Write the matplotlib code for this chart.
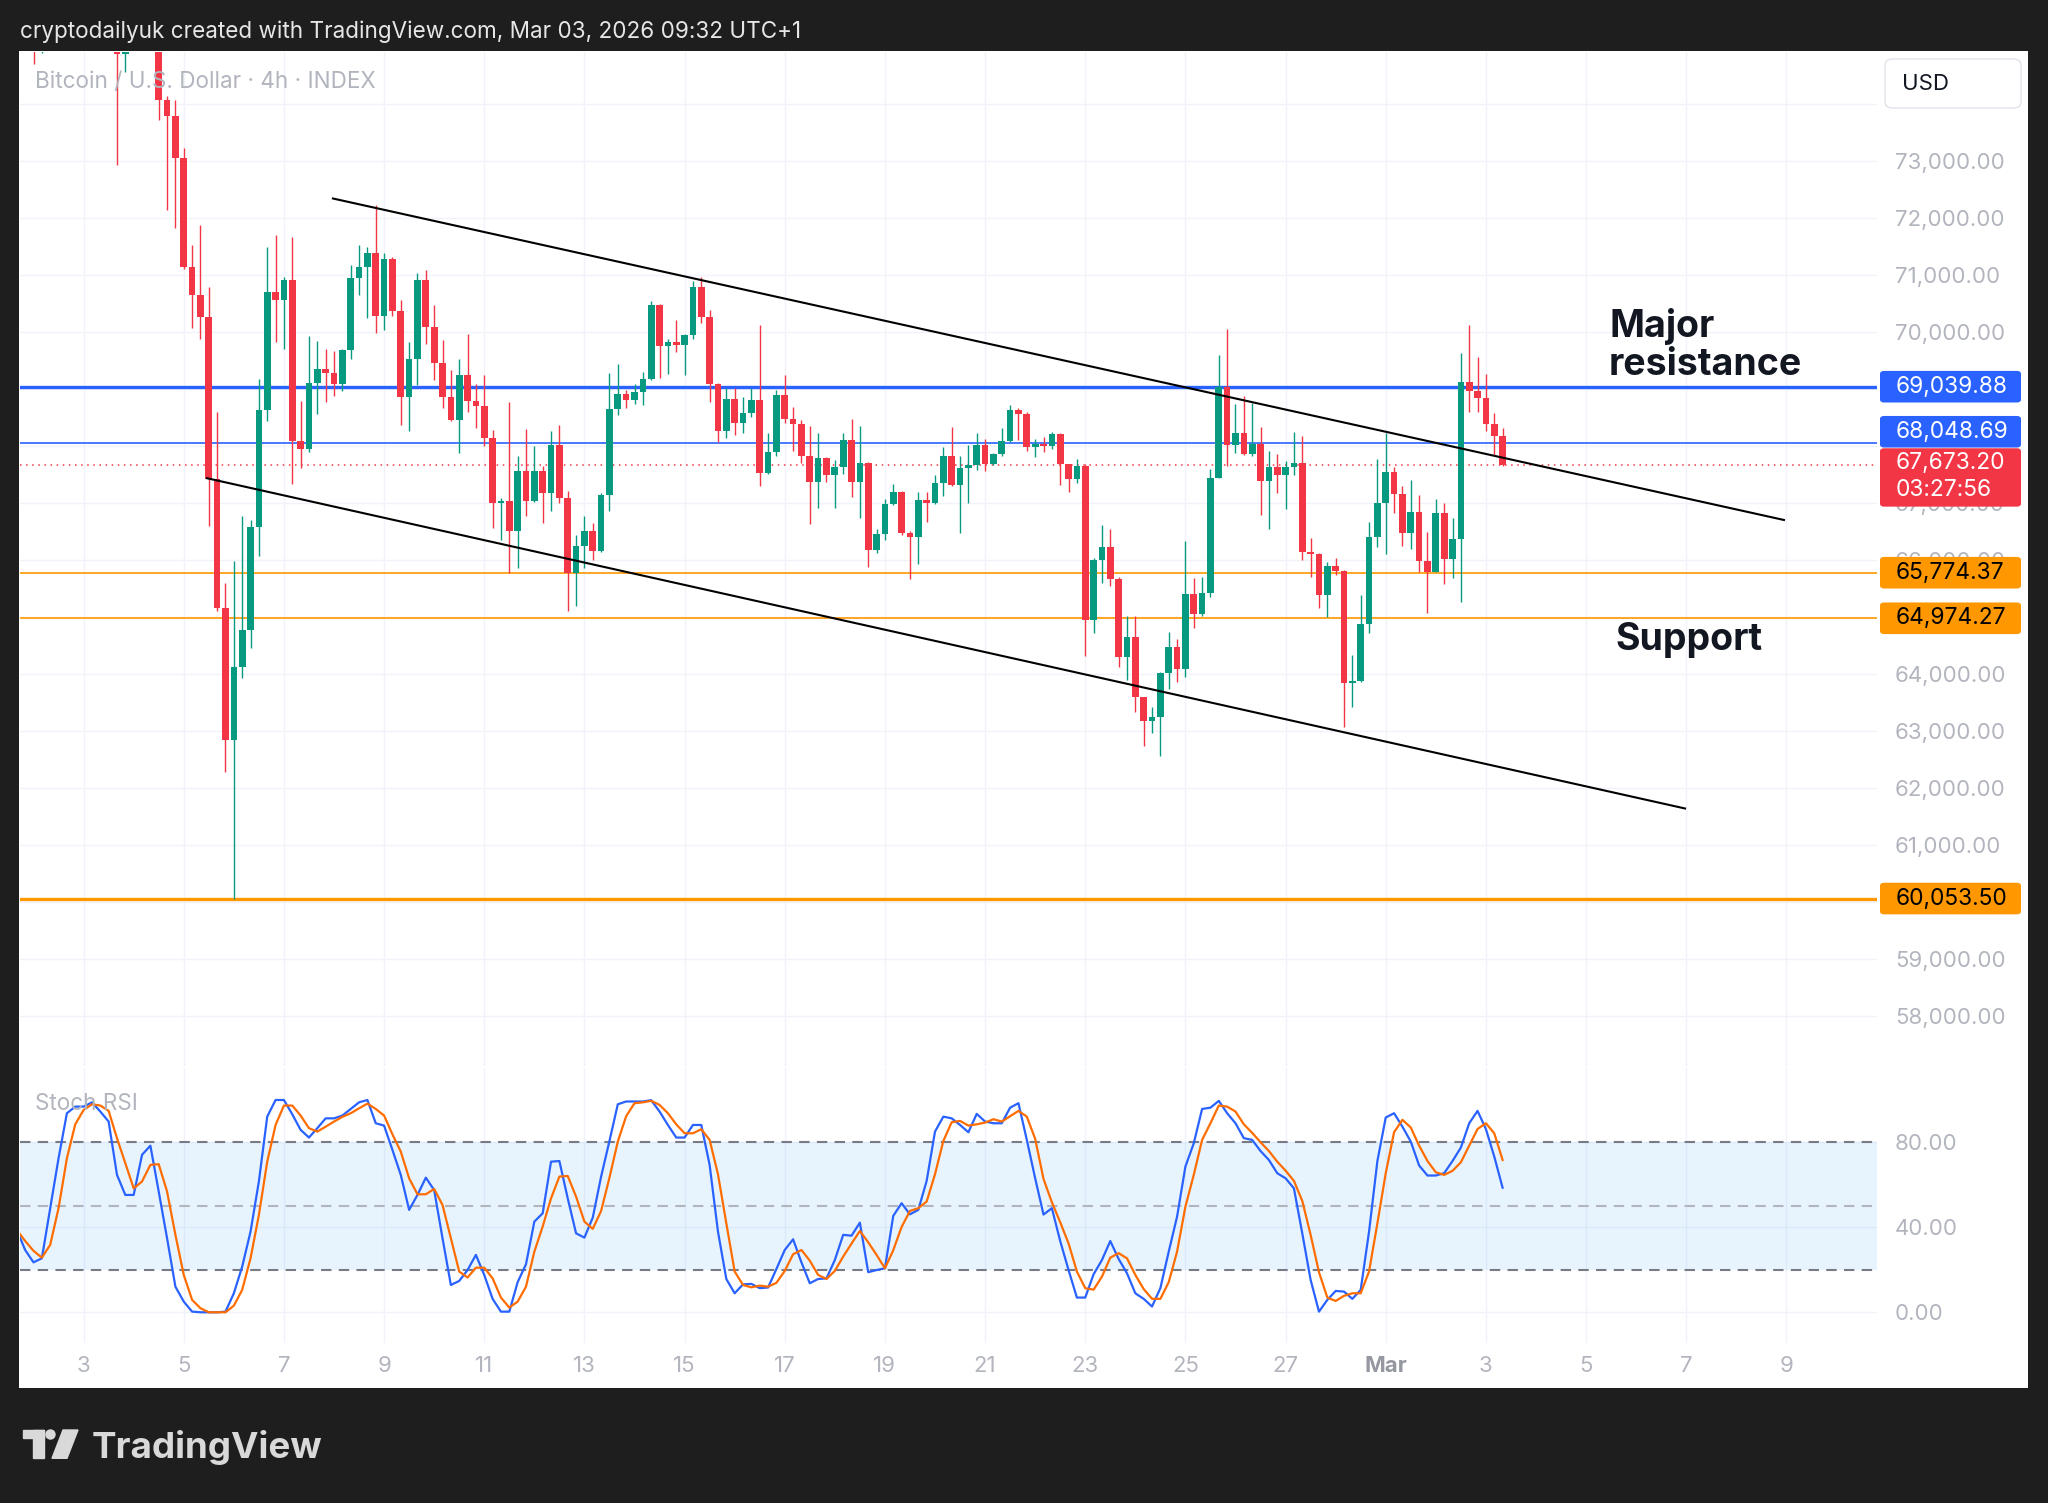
import matplotlib
matplotlib.use('Agg')
import matplotlib.pyplot as plt
import matplotlib.dates as mdates
from matplotlib.patches import Rectangle, FancyBboxPatch, Polygon, Ellipse
import numpy as np
import pandas as pd

plt.rcParams['font.family'] = ['Inter', 'DejaVu Sans']

# 4h candles, first one opens 2026-02-01 16:00 (UTC+1)
start = '2026-02-01 16:00'
opens = [78000, 77600, 77200, 75600, 76400, 77300, 78100, 78800, 78500, 78200, 77300, 76100, 75500, 74880,
         75300, 76000, 75800, 75400, 74067, 73800, 73056, 71150, 70650, 70260, 67420, 65160, 62840, 64125,
         64770, 66570, 68625, 70700, 70570, 70910, 68095, 67950, 69105, 69350, 69280, 69080, 69685, 70946,
         71140, 71386, 70287, 71287, 70363, 68854, 69532, 70918, 70088, 69456, 68854, 68462, 69251, 68795,
         68700, 68140, 66994, 67030, 66503, 67556, 67041, 67556, 67175, 68023, 67088, 65772, 66240, 66515,
         66164, 67135, 68649, 68912, 68813, 68947, 69181, 70468, 69760, 69825, 69778, 69942, 70784, 70269,
         69087, 68267, 68818, 68408, 68572, 68806, 67530, 67899, 68894, 68466, 68384, 67823, 67372, 67782,
         67489, 67635, 68104, 67372, 67694, 66172, 66453, 66980, 67196, 66477, 66406, 67050, 67003, 67354,
         67822, 67313, 67606, 67665, 68016, 67682, 67858, 68092, 68630, 68560, 67975, 68040, 68000, 68209,
         67682, 67413, 67647, 64943, 65997, 66219, 65657, 64300, 64651, 63586, 63176, 63234, 64007, 64463,
         64077, 65400, 65049, 65423, 67431, 69040, 68016, 68232, 67850, 68033, 67390, 67624, 67489, 67624,
         67706, 66143, 66108, 65382, 65891, 65810, 63832, 63879, 64873, 66394, 67003, 67548, 67156, 66477,
         66845, 65985, 65792, 66828, 66008, 66360, 69128, 68970, 68835, 68384, 68174]
highs = [78800, 78100, 77900, 77000, 77800, 78600, 79200, 79300, 79000, 78700, 77600, 76500, 75800, 75600,
         76300, 76600, 76100, 75700, 74145, 74070, 73230, 71530, 71880, 70790, 68600, 65590, 65975, 66765,
         66700, 69170, 71485, 71705, 70960, 71660, 68790, 69925, 69850, 69700, 69665, 69700, 71177, 71520,
         71500, 72222, 71386, 71310, 70555, 69819, 71035, 71082, 70480, 69865, 69339, 69532, 69965, 69088,
         69251, 68287, 67088, 68772, 67819, 68304, 67994, 67643, 68257, 68363, 67205, 66433, 66766, 66649,
         67175, 69281, 69439, 68988, 69088, 69298, 70538, 70491, 69883, 70216, 69965, 70889, 70971, 70386,
         69110, 69011, 69011, 68864, 69011, 70122, 68232, 68981, 69245, 68689, 68455, 68349, 68232, 67800,
         67752, 68221, 68466, 68349, 67710, 66535, 67062, 67331, 67210, 66500, 67196, 67196, 67489, 67975,
         68326, 67822, 68016, 68232, 68115, 67870, 68308, 68718, 68660, 68601, 68115, 68150, 68250, 68220,
         67690, 67764, 67682, 66026, 66611, 66535, 65700, 65014, 65014, 63600, 63422, 64036, 64738, 64603,
         66336, 65675, 65704, 67588, 69596, 70060, 68736, 68876, 68748, 68326, 67916, 67858, 67741, 68250,
         68174, 66377, 66120, 65968, 66026, 65830, 64329, 65382, 66670, 67764, 68232, 67636, 67296, 67401,
         67144, 66494, 67062, 67003, 66728, 69625, 70123, 69555, 69262, 68572, 68308]
lows = [77200, 76800, 74700, 74900, 75900, 76900, 77600, 78000, 77800, 76900, 75800, 75100, 72930, 74570,
        75000, 75400, 75100, 73730, 72140, 71820, 71100, 70070, 69880, 66600, 65110, 62270, 60053.5, 63930,
        64450, 66070, 68430, 69830, 69710, 67340, 67610, 67900, 68555, 68770, 68885, 68960, 69520, 70650,
        70245, 69982, 70041, 70275, 68374, 68269, 69064, 69789, 69164, 68667, 68433, 67877, 68596, 68316,
        67994, 66556, 66357, 65772, 65860, 66766, 67018, 66649, 66866, 67000, 65100, 65187, 65860, 66006,
        66140, 66854, 68538, 68667, 68737, 68713, 69160, 69193, 69263, 69649, 69240, 69883, 70158, 68777,
        68074, 68133, 68191, 68232, 68513, 67296, 67507, 67823, 68396, 67916, 67706, 66629, 66904, 67372,
        66904, 67507, 67109, 66728, 65880, 66126, 66348, 66960, 66436, 65657, 65926, 66670, 66980, 67120,
        67296, 66477, 66992, 67577, 67565, 67665, 67830, 68070, 68104, 67916, 67811, 67900, 67950, 67313,
        67196, 67354, 64311, 64709, 65599, 65540, 64112, 63890, 63334, 62731, 62966, 62556, 63726, 63861,
        63949, 64797, 65014, 65341, 67431, 67647, 67870, 67840, 67823, 66787, 66535, 67179, 66886, 67489,
        65997, 65693, 65148, 65002, 65733, 63059, 63410, 63861, 64709, 66231, 66102, 66828, 66243, 66184,
        65792, 65061, 65780, 65575, 65675, 65265, 68601, 68601, 68267, 67840, 67650]
closes = [77600, 77200, 75600, 76400, 77300, 78100, 78800, 78500, 78200, 77300, 76100, 75500, 74880, 75300,
          76000, 75800, 75400, 74067, 73800, 73056, 71150, 70650, 70260, 67420, 65160, 62840, 64125, 64770,
          66570, 68625, 70700, 70570, 70910, 68095, 67950, 69105, 69350, 69280, 69080, 69685, 70946, 71140,
          71386, 70287, 71287, 70363, 68854, 69532, 70918, 70088, 69456, 68854, 68462, 69251, 68795, 68700,
          68140, 66994, 67030, 66503, 67556, 67041, 67556, 67175, 68023, 67088, 65772, 66240, 66515, 66164,
          67135, 68649, 68912, 68813, 68947, 69181, 70468, 69760, 69825, 69778, 69942, 70784, 70269, 69087,
          68267, 68818, 68408, 68572, 68806, 67530, 67899, 68894, 68466, 68384, 67823, 67372, 67782, 67489,
          67635, 68104, 67372, 67694, 66172, 66453, 66980, 67196, 66477, 66406, 67050, 67003, 67354, 67822,
          67313, 67606, 67665, 68016, 67682, 67858, 68092, 68630, 68560, 67975, 68040, 68000, 68209, 67682,
          67413, 67647, 64943, 65997, 66219, 65657, 64300, 64651, 63586, 63176, 63234, 64007, 64463, 64077,
          65400, 65049, 65423, 67431, 69040, 68016, 68232, 67850, 68033, 67390, 67624, 67489, 67624, 67706,
          66143, 66108, 65382, 65891, 65810, 63832, 63879, 64873, 66394, 67003, 67548, 67156, 66477, 66845,
          65985, 65792, 66828, 66008, 66360, 69128, 68970, 68835, 68384, 68174, 67673.2]

stoch_k = [38.6, 29.2, 23.4, 25.3, 48.8, 72.2, 93.3, 96.4, 96.4, 98.4, 94.1, 89.4, 64.4, 55, 55, 73.8, 78.1,
           56.6, 34.7, 12, 5, 0.3, 0, 0, 0, 0.3, 8.9, 21.4, 37.8, 61.3, 91.7, 99.5, 99.5, 92.8, 85.5, 81.9,
           86.3, 90.9, 90.9, 92.2, 95.3, 98.4, 99.5, 88.6, 87.5, 76.1, 64.4, 48, 55, 63.1, 57.3, 34.7, 12.8,
           14.7, 19.8, 26.9, 17.5, 6.3, 0.3, 0.3, 14.1, 22.5, 42.5,
           46.4, 70.6, 70.9, 53.4, 37, 35, 44.4, 63.6, 80.3, 97.5, 98.8, 98.8, 98.8, 99.4, 94.1, 87.8, 81.9,
           81.9, 87.8, 87.8, 69.1, 37.8, 15.6, 8.9, 13.1, 13.3, 11.3, 11.6, 20.3, 29.2, 34.2, 23.4, 13.6,
           15.6, 15.9, 24.5, 36.3, 35.9, 42, 18.8, 19.8, 20.6, 45.2, 51.1, 45.9, 48, 61.6, 84.7, 91.7, 90.9,
           87.8, 84.4, 93, 89.4, 88.6, 88.6, 95.9, 98, 80.8, 62.8, 45.8,
           48.8, 33.4, 19.8, 6.9, 6.9, 17.8, 24.5, 33.4, 25, 18.3, 8.9, 6.3, 2.7, 11.3, 28.4, 44.8, 68.3,
           79.2, 95.3, 95.9, 99.1, 93.3, 88.6, 81.6, 80.8, 75.6, 71.4, 65.2, 62.8, 58.1, 37, 15.2, 0.3, 5.8,
           10, 9.7, 6.3, 10.5, 37.8, 70.9, 91.3, 93.3, 87, 80, 68.8, 64.1, 64.1, 65.2, 70.9, 77.2, 88.6,
           94.4, 85.9, 73, 58.4]
stoch_d = [38.6, 33.4, 28.8, 25.6, 31.6, 48.8, 72.2, 88.1, 94.8, 97.5, 96.9, 94.4, 81.6, 69.8, 58.1, 61.3,
           69.1, 69.4, 56.6, 36.3, 17.5, 5.8, 1.9, 0, 0, 0, 3.1, 10.5, 25.3, 45.6, 70.6, 87.8, 96.9, 96.9,
           92.2, 86.3, 84.7, 87, 89.4, 91.6, 93.3, 95.6, 97.8, 95.3, 92.2, 83.4, 75.3, 62.8, 55.3, 55.3,
           57.8, 50.3, 34.7, 19.1, 16.3, 20.9, 20.9, 15.9, 6.9, 2.2, 5, 12, 28.4,
           40.2, 53.4, 63.6, 63.9, 54.2, 42.5, 39.1, 47.5, 63.1, 80, 91.9, 98, 98.4, 99.1, 97.2, 93.3, 88.1,
           83.9, 83.9, 85.8, 80.8, 64.7, 41.7, 19.1, 12.8, 11.7, 12.5, 12, 13.8, 19.4, 27.2, 29.2, 24.2,
           17.5, 15.6, 19.4, 26.1, 32.2, 38.1, 32.8, 26.9, 20.6, 29.1, 40, 47.5, 48.8, 51.9, 64.7, 80.3,
           89.1, 89.7, 87.5, 88.1, 88.9, 90.5, 89.4, 91.9, 94.4, 91.7, 81.3, 62.5,
           51.6, 42.2, 32.3, 19.1, 11.3, 10.6, 16.7, 25.6, 27.7, 25.3, 17.5, 10.9, 6.3, 6.3, 14.1, 28.4,
           49.5, 64.4, 80.8, 88.6, 96.9, 96.4, 94.1, 88.1, 84.1, 79.7, 75.6, 70.6, 66.4, 61.6, 52.2, 36.3,
           18.8, 6.9, 5.3, 7.7, 8.9, 8.9, 19.1, 41.7, 65.2, 84.4, 90.2, 86.6, 78.1, 70.9, 65.6, 64.4, 66.3,
           70.3, 78.1, 85.9, 88.6, 83.9, 71.4]

resistance = 69039.88
level_blue = 68048.69
last_price = 67673.20
countdown = '03:27:56'
support_1 = 65774.37
support_2 = 64974.27
support_low = 60053.50

upper_dates = ['2026-02-07 23:30', '2026-03-08 22:50']
upper_prices = [72344, 66700]
lower_dates = ['2026-02-05 11:10', '2026-03-06 23:25']
lower_prices = [67433, 61635]

price_ticks = list(range(58000, 74001, 1000))
hidden_ticks = [74000, 69000, 68000, 65000, 60000]  # covered by the label boxes
stoch_ticks = [0, 40, 80]
tick_dates = pd.date_range('2026-02-03', '2026-03-09', freq='2D')

W, H = 2048, 1503
GREEN, RED = '#089981', '#f23645'
BLUE, ORANGE = '#2962ff', '#ff9800'
GRID = '#f0f3fa'
AXIS_TXT = '#b2b5be'


def fx(px):
    return px / W


def fy(py):
    return 1 - py / H


fig = plt.figure(figsize=(W / 100, H / 100), dpi=100, facecolor='#1e1e1e')
fig.patches.append(Rectangle((fx(19), fy(1388)), fx(2028) - fx(19), (1388 - 51) / H,
                             transform=fig.transFigure, facecolor='white', edgecolor='none', zorder=-5))

ax = fig.add_axes([fx(19.6), fy(1066), fx(1877) - fx(19.6), (1066 - 52) / H])
ax2 = fig.add_axes([fx(19.6), fy(1343), fx(1877) - fx(19.6), (1343 - 1068) / H], sharex=ax)
for a in (ax, ax2):
    a.set_facecolor('none')
    for s in a.spines.values():
        s.set_visible(False)
    a.yaxis.tick_right()
    a.tick_params(length=0, labelsize=16, labelcolor=AXIS_TXT, pad=13)
    a.grid(color=GRID, lw=1)
    a.set_axisbelow(True)

dates = pd.date_range(start, periods=len(opens), freq='4h')
x = mdates.date2num(dates.to_pydatetime())
o, h, l, c = map(np.array, (opens, highs, lows, closes))
col = np.where(c >= o, GREEN, RED)
ax.vlines(x, l, h, colors=col, lw=1.0, zorder=3)
ax.bar(x, np.maximum(np.abs(c - o), 18), width=0.8 / 6, bottom=np.minimum(o, c),
       color=col, linewidth=0, zorder=4)

ax.axhline(resistance, color=BLUE, lw=2.4, zorder=2)
ax.axhline(level_blue, color=BLUE, lw=1.2, zorder=2)
ax.axhline(last_price, color=RED, lw=1.1, ls=(0, (1, 3)), zorder=2)
ax.axhline(support_1, color=ORANGE, lw=1.2, zorder=2)
ax.axhline(support_2, color=ORANGE, lw=1.2, zorder=2)
ax.axhline(support_low, color=ORANGE, lw=2.4, zorder=2)

ax.plot(mdates.date2num(pd.to_datetime(upper_dates).to_pydatetime()), upper_prices,
        color='black', lw=1.5, zorder=5)
ax.plot(mdates.date2num(pd.to_datetime(lower_dates).to_pydatetime()), lower_prices,
        color='black', lw=1.5, zorder=5)

ax.set_xlim(mdates.date2num(pd.Timestamp('2026-02-01 17:20').to_pydatetime()),
            mdates.date2num(pd.Timestamp('2026-03-10 19:25').to_pydatetime()))
ax.set_ylim(57114, 74916)
ax.set_yticks(price_ticks)
ax.set_yticklabels(['' if v in hidden_ticks else f'{v:,.2f}' for v in price_ticks])
ax.set_xticks(mdates.date2num(tick_dates.to_pydatetime()))
ax.tick_params(labelbottom=False)

ax.text(mdates.date2num(pd.Timestamp('2026-03-05 11:00').to_pydatetime()), 69916, 'Major',
        fontsize=27, fontweight='bold', color='#131722', va='baseline', zorder=6)
ax.text(mdates.date2num(pd.Timestamp('2026-03-05 11:00').to_pydatetime()), 69245, 'resistance',
        fontsize=27, fontweight='bold', color='#131722', va='baseline', zorder=6)
ax.text(mdates.date2num(pd.Timestamp('2026-03-05 14:00').to_pydatetime()), 64417, 'Support',
        fontsize=27, fontweight='bold', color='#131722', va='baseline', zorder=6)

ax2.axhspan(20, 80, color='#2196f3', alpha=0.1, lw=0, zorder=1)
ax2.axhline(80, color='#787b86', lw=1.5, ls=(0, (5, 3.5)), zorder=2)
ax2.axhline(50, color='#b2b5be', lw=1.5, ls=(0, (5, 3.5)), zorder=2)
ax2.axhline(20, color='#787b86', lw=1.5, ls=(0, (5, 3.5)), zorder=2)
ax2.plot(x, stoch_k, color=BLUE, lw=1.6, zorder=4)
ax2.plot(x, stoch_d, color='#ff6d00', lw=1.6, zorder=5)
ax2.set_ylim(-14.4, 114.5)
ax2.set_yticks(stoch_ticks)
ax2.set_yticklabels([f'{v:.2f}' for v in stoch_ticks])
ax2.set_xticklabels(['Mar' if d.day == 1 else str(d.day) for d in tick_dates])
ax2.tick_params(axis='x', pad=9)
for lab in ax2.get_xticklabels():
    if lab.get_text() == 'Mar':
        lab.set_fontweight('bold')
        lab.set_color('#9598a1')

fig.text(fx(20), fy(38), 'cryptodailyuk created with TradingView.com, Mar 03, 2026 09:32 UTC+1',
         color='#e6e6e6', fontsize=16.2, va='baseline')
fig.text(fx(35), fy(88), 'Bitcoin / U.S. Dollar · 4h · INDEX', color=AXIS_TXT, fontsize=16.2,
         va='baseline', zorder=2)
fig.text(fx(35), fy(1110), 'Stoch RSI', color=AXIS_TXT, fontsize=16.2, va='baseline')

fig.add_artist(FancyBboxPatch((fx(1885), fy(108)), fx(2021) - fx(1885), 49 / H,
                              boxstyle='round,pad=0,rounding_size=0.004', transform=fig.transFigure,
                              facecolor='white', edgecolor='#e0e3eb', lw=1, zorder=10))
fig.text(fx(1902), fy(84), 'USD', color='#131722', fontsize=16, va='center', zorder=11)


def py_of(price):
    return H - ax.transData.transform((ax.get_xlim()[0], price))[1]


def price_box(top, height, face, fg, lines):
    fig.add_artist(FancyBboxPatch((fx(1880), fy(top + height)), fx(2021) - fx(1880), height / H,
                                  boxstyle='round,pad=0,rounding_size=0.002', transform=fig.transFigure,
                                  facecolor=face, edgecolor='none', zorder=10))
    for txt, yc in lines:
        fig.text(fx(1896), fy(yc), txt, color=fg, fontsize=16.4, va='center', zorder=11)


for price, face, fg, shift in [(resistance, BLUE, 'white', 0), (level_blue, BLUE, 'white', -11.4),
                               (support_1, ORANGE, 'black', 0), (support_2, ORANGE, 'black', 0),
                               (support_low, ORANGE, 'black', 0)]:
    yc = py_of(price) + shift
    price_box(yc - 15.8, 31.6, face, fg, [(f'{price:,.2f}', yc)])

yl = py_of(last_price)
price_box(yl - 16.3, 58.4, RED, 'white', [(f'{last_price:,.2f}', yl - 1.3), (countdown, yl + 25.4)])

# TradingView logo
logo = '#d9d9d9'
fig.add_artist(Rectangle((fx(22.7), fy(1438.3)), fx(44) - fx(22.7), 8.3 / H,
                         transform=fig.transFigure, color=logo))
fig.add_artist(Rectangle((fx(33.3), fy(1458.3)), fx(44) - fx(33.3), 28.3 / H,
                         transform=fig.transFigure, color=logo))
fig.add_artist(Ellipse((fx(50.5), fy(1434.5)), 9 / W, 9 / H, transform=fig.transFigure, color=logo))
fig.add_artist(Polygon([(fx(63), fy(1430)), (fx(78), fy(1430)), (fx(67), fy(1458.3)), (fx(52), fy(1458.3))],
                       transform=fig.transFigure, color=logo))
fig.text(fx(92), fy(1458), 'TradingView', color=logo, fontsize=26.5, fontweight='bold', va='baseline')

fig.savefig('out.png', dpi=100, facecolor=fig.get_facecolor())
